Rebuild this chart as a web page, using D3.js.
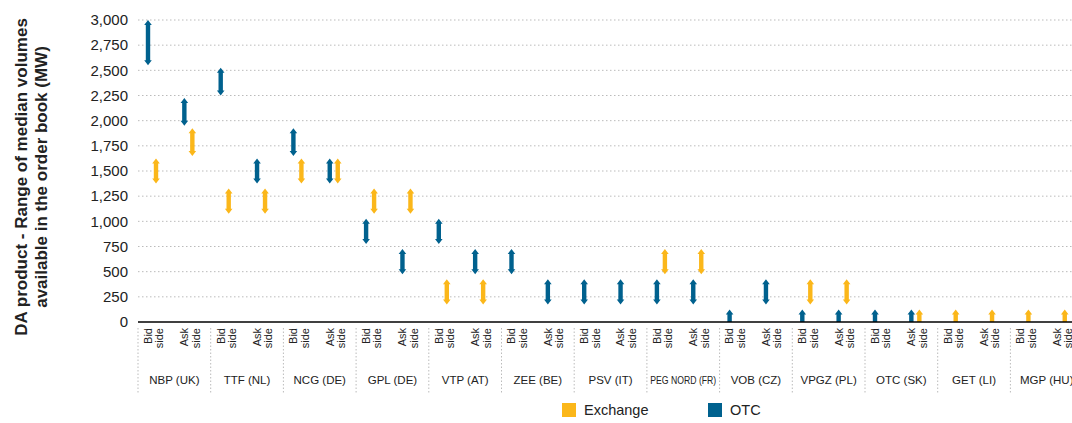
<!DOCTYPE html>
<html>
<head>
<meta charset="utf-8">
<script src="https://cdn.jsdelivr.net/npm/d3@7"></script>
<style>
  body { margin: 0; background: #fff; font-family: "Liberation Sans", Arial, sans-serif; }
</style>
</head>
<body>
<div id="chart"></div>
<script>
// hubs and sides
const hubs = ["NBP (UK)", "TTF (NL)", "NCG (DE)", "GPL (DE)", "VTP (AT)", "ZEE (BE)", "PSV (IT)",
              "PEG NORD (FR)", "VOB (CZ)", "VPGZ (PL)", "OTC (SK)", "GET (LI)", "MGP (HU)"];
const sides = ["Bid", "Ask"];
const yTicks = [0, 250, 500, 750, 1000, 1250, 1500, 1750, 2000, 2250, 2500, 2750, 3000];

// [low, high] ranges, per hub: [bid, ask]; null = none
const otc = [
  [[2550, 3000], [1950, 2225]],
  [[2250, 2525], [1375, 1625]],
  [[1650, 1925], [1375, 1625]],
  [[775, 1025], [475, 725]],
  [[775, 1025], [475, 725]],
  [[475, 725], [175, 425]],
  [[175, 425], [175, 425]],
  [[175, 425], [175, 425]],
  [[0, 125], [175, 425]],
  [[0, 125], [0, 125]],
  [[0, 125], [0, 125]],
  [null, null],
  [null, null]
];
const exchange = [
  [[1375, 1625], [1650, 1925]],
  [[1075, 1325], [1075, 1325]],
  [[1375, 1625], [1375, 1625]],
  [[1075, 1325], [1075, 1325]],
  [[175, 425], [175, 425]],
  [null, null],
  [null, null],
  [[475, 725], [475, 725]],
  [null, null],
  [[175, 425], [175, 425]],
  [null, [0, 125]],
  [[0, 125], [0, 125]],
  [[0, 125], [0, 125]]
];

const colors = { OTC: "#00618e", Exchange: "#fbb71a" };

const W = 1072, H = 423;
const margin = { top: 20, right: 0, bottom: 101, left: 138 };
const width = W - margin.left - margin.right;
const height = H - margin.top - margin.bottom;

const svg = d3.select("#chart").append("svg")
    .attr("width", W).attr("height", H);
const g = svg.append("g")
    .attr("transform", "translate(" + margin.left + "," + margin.top + ")");

const x0 = d3.scaleBand().domain(hubs).range([0, 13 * 72.7]);
const x1 = d3.scaleBand().domain(sides).range([0, x0.bandwidth()]);
const y = d3.scaleLinear().domain([0, 3000]).range([height, 0]);

// gridlines
g.selectAll(".grid").data(yTicks.slice(1)).join("line")
    .attr("x1", 0).attr("x2", width)
    .attr("y1", d => y(d)).attr("y2", d => y(d))
    .attr("stroke", "#bbb").attr("stroke-dasharray", "1.5,2.5");

// y tick labels
g.selectAll(".ytick").data(yTicks).join("text")
    .attr("x", -10).attr("y", d => y(d)).attr("dy", "0.35em")
    .attr("text-anchor", "end").attr("font-size", 15).attr("fill", "#222")
    .text(d => d3.format(",")(d));

// y title
const yt = svg.append("text")
    .attr("transform", "translate(27," + (margin.top + height / 2 + 6) + ") rotate(-90)")
    .attr("text-anchor", "middle").attr("font-size", 17).attr("font-weight", "bold").attr("fill", "#222");
yt.append("tspan").attr("x", 0).attr("dy", 0).text("DA product - Range of median volumes");
yt.append("tspan").attr("x", 0).attr("dy", 20).text("available in the order book (MW)");

// arrows
const marks = [];
hubs.forEach((h, i) => sides.forEach((s, j) => {
  if (otc[i][j]) marks.push({ hub: h, side: s, type: "OTC", r: otc[i][j], off: 10 });
  if (exchange[i][j]) marks.push({ hub: h, side: s, type: "Exchange", r: exchange[i][j], off: 18 });
}));

function arrowPath(d) {
  const cx = x0(d.hub) + x1(d.side) + d.off;
  const top = y(d.r[1]), bot = y(d.r[0]);
  const sw = 2.2, hw = 3.8, hh = 5;
  let p = "M" + (cx - sw) + "," + (top + hh) + "L" + (cx - hw) + "," + (top + hh) +
          "L" + cx + "," + top + "L" + (cx + hw) + "," + (top + hh) + "L" + (cx + sw) + "," + (top + hh);
  if (d.r[0] > 0) {
    p += "L" + (cx + sw) + "," + (bot - hh) + "L" + (cx + hw) + "," + (bot - hh) +
         "L" + cx + "," + bot + "L" + (cx - hw) + "," + (bot - hh) + "L" + (cx - sw) + "," + (bot - hh);
  } else {
    p += "L" + (cx + sw) + "," + bot + "L" + (cx - sw) + "," + bot;
  }
  return p + "Z";
}
g.selectAll(".arrow").data(marks).join("path")
    .attr("d", arrowPath).attr("fill", d => colors[d.type]);

// baseline
g.append("line").attr("x1", 0).attr("x2", width).attr("y1", height).attr("y2", height)
    .attr("stroke", "#000").attr("stroke-width", 1.5);

// group separators
g.selectAll(".sep").data(hubs.concat(["end"])).join("line")
    .attr("x1", (d, i) => i * x0.bandwidth()).attr("x2", (d, i) => i * x0.bandwidth())
    .attr("y1", height + 6).attr("y2", height + 72)
    .attr("stroke", "#bbb").attr("stroke-dasharray", "1.5,2");

// side labels
hubs.forEach(h => sides.forEach(s => {
  const cx = x0(h) + x1(s) + 10;
  const t = g.append("text")
      .attr("transform", "translate(" + cx + "," + (height + 6) + ") rotate(-90)")
      .attr("text-anchor", "end").attr("font-size", 11).attr("fill", "#222");
  t.append("tspan").attr("x", 0).attr("dy", "0.35em").text(s);
  t.append("tspan").attr("x", 0).attr("dy", "1.05em").text("side");
}));

// hub labels
g.selectAll(".hub").data(hubs).join("text")
    .attr("x", d => x0(d) + x0.bandwidth() / 2).attr("y", height + 62)
    .attr("text-anchor", "middle").attr("font-size", 11.5).attr("fill", "#222")
    .attr("textLength", d => d === "PEG NORD (FR)" ? 66 : null)
    .attr("lengthAdjust", "spacingAndGlyphs")
    .text(d => d);

// legend
const legend = [{ k: "Exchange", x: 562 }, { k: "OTC", x: 708 }];
const lg = svg.selectAll(".lg").data(legend).join("g")
    .attr("transform", d => "translate(" + d.x + ",403)");
lg.append("rect").attr("width", 14).attr("height", 14).attr("fill", d => colors[d.k]);
lg.append("text").attr("x", 22).attr("y", 7).attr("dy", "0.35em")
    .attr("font-size", 14.5).attr("fill", "#222").text(d => d.k);
</script>
</body>
</html>
